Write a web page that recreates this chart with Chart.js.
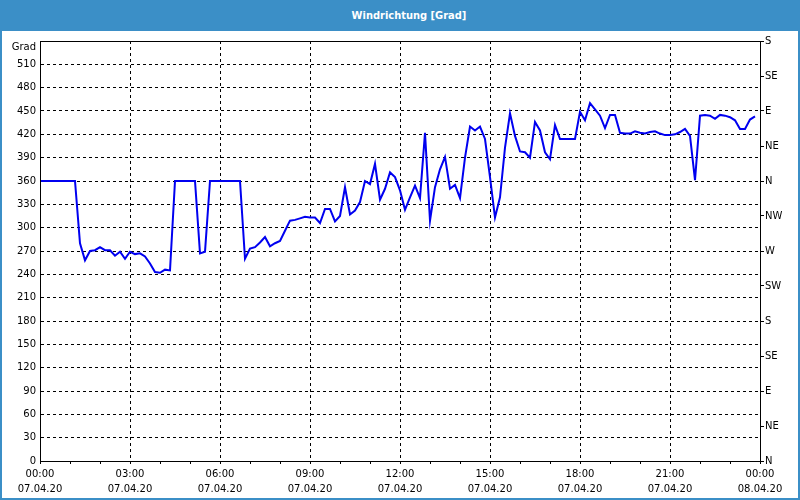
<!DOCTYPE html>
<html>
<head>
<meta charset="utf-8">
<script src="https://cdn.jsdelivr.net/npm/chart.js@4.4.0/dist/chart.umd.min.js"></script>
<style>
  html, body { margin: 0; padding: 0; background: #ffffff; }
  #frame { position: relative; width: 800px; height: 500px; overflow: hidden; background: #ffffff; }
  #header { position: absolute; left: 0; top: 0; width: 800px; height: 31px; background: #3b8fc7;
            color: #ffffff; font: bold 11px "DejaVu Sans Condensed", "DejaVu Sans", sans-serif;
            line-height: 31px; text-align: center; box-sizing: border-box; padding-left: 18px; }
  #chartWrap { position: absolute; left: 0; top: 31px; width: 800px; height: 469px; }
  .bd { position: absolute; background: #3b8fc7; }
</style>
</head>
<body>
<div id="frame">
  <div id="header">Windrichtung [Grad]</div>
  <div id="chartWrap"><canvas id="c" width="800" height="469"></canvas></div>
  <div class="bd" style="left:0;top:31px;width:2px;height:469px;"></div>
  <div class="bd" style="left:798px;top:31px;width:2px;height:469px;"></div>
  <div class="bd" style="left:0;top:498px;width:800px;height:2px;"></div>
</div>
<script>
// time of each sample, minutes after 07.04.20 00:00
const minutes = [
  0,10,20,30,40,50,60,70,80,90,100,110,120,130,140,150,160,170,180,190,200,210,220,230,240,250,260,270,280,290,
  300,310,320,330,340,350,360,370,380,390,400,410,420,430,440,450,460,470,480,490,500,510,520,530,540,550,560,570,580,590,
  600,610,620,630,640,650,660,670,680,690,700,710,720,730,740,750,760,770,780,790,800,810,820,830,840,850,860,870,880,890,
  900,910,920,930,940,950,960,970,980,990,1000,1010,1020,1030,1040,1050,1060,1070,1080,1090,1100,1110,1120,1130,1140,1150,1160,1170,1180,1190,
  1200,1210,1220,1230,1240,1250,1260,1270,1280,1290,1300,1310,1320,1330,1340,1350,1360,1370,1380,1390,1400,1410,1420,1430
];
// wind direction, degrees
const direction = [
  360,360,360,360,360,360,360,360,280,258,270,271,275,271,271,264,269,260,269,266,267,263,254,243,242,246,245,360,360,360,
  360,360,267,269,360,360,360,360,360,360,360,260,273,275,281,288,276,280,283,296,309,310,312,314,313,313,306,324,324,308,
  315,352,317,322,333,360,356,382,336,350,371,365,348,323,339,354,338,422,309,352,375,391,350,355,338,390,430,425,430,414,
  365,313,339,403,447,418,398,397,390,436,425,397,388,432,414,414,414,414,449,438,460,452,444,428,445,445,422,421,421,424,
  422,421,423,424,421,419,419,420,423,427,418,361,444,445,444,440,445,444,442,438,427,427,439,443
];
const timeLabels = ['00:00','03:00','06:00','09:00','12:00','15:00','18:00','21:00','00:00'];
const dateLabels = ['07.04.20','07.04.20','07.04.20','07.04.20','07.04.20','07.04.20','07.04.20','07.04.20','08.04.20'];
const compassLabels = ['N','NE','E','SE','S','SW','W','NW','N','NE','E','SE','S'];
const yUnitLabel = 'Grad';

const points = minutes.map((m, i) => ({ x: m, y: direction[i] }));

const framePlugin = {
  id: 'frame',
  afterDraw(chart) {
    const { ctx, chartArea: a } = chart;
    ctx.save();
    ctx.strokeStyle = '#000';
    ctx.lineWidth = 1;
    ctx.strokeRect(Math.round(a.left) + 0.5, Math.round(a.top) + 0.5,
                   Math.round(a.right - a.left), Math.round(a.bottom - a.top));
    ctx.fillStyle = '#000';
    ctx.font = '10px "DejaVu Sans"';
    ctx.textAlign = 'right';
    ctx.textBaseline = 'middle';
    ctx.fillText(yUnitLabel, a.left - 4, a.top + 6);
    ctx.restore();
  }
};

Chart.defaults.font.family = '"DejaVu Sans", sans-serif';
Chart.defaults.font.size = 10;
Chart.defaults.color = '#000';

new Chart(document.getElementById('c'), {
  type: 'line',
  data: {
    datasets: [{
      data: points,
      borderColor: '#0000f0',
      borderWidth: 2,
      pointRadius: 0,
      tension: 0,
      fill: false,
      yAxisID: 'y'
    }]
  },
  options: {
    responsive: false,
    animation: false,
    events: [],
    layout: { padding: { top: 9, left: 0, right: 0, bottom: 0 } },
    plugins: { legend: { display: false }, tooltip: { enabled: false }, title: { display: false } },
    scales: {
      x: {
        type: 'linear',
        min: 0, max: 1440,
        afterFit(s) { s.height = 39; },
        ticks: {
          stepSize: 60,
          autoSkip: false,
          maxRotation: 0,
          padding: 3,
          font: { size: 10, lineHeight: '15px' },
          callback(v) {
            if (v % 180 !== 0) return '';
            const i = v / 180;
            return [timeLabels[i], dateLabels[i]];
          }
        },
        grid: {
          color: (c) => (c.tick && c.tick.value % 180 === 0) ? '#000' : 'rgba(0,0,0,0)',
          lineWidth: 1,
          drawTicks: true,
          tickLength: 3,
          tickColor: '#000',
          tickWidth: 1
        },
        border: { display: true, color: '#000', width: 1, dash: [3, 3] }
      },
      y: {
        position: 'left',
        min: 0, max: 540,
        afterFit(s) { s.width = 40; },
        ticks: {
          stepSize: 30,
          padding: 4,
          callback(v) { return v === 540 ? '' : String(v); }
        },
        grid: { color: '#000', lineWidth: 1, drawTicks: false },
        border: { display: true, color: '#000', width: 1, dash: [3, 3] }
      },
      y2: {
        position: 'right',
        min: 0, max: 540,
        afterFit(s) { s.width = 40; },
        ticks: {
          stepSize: 45,
          padding: 1,
          callback(v) { return compassLabels[Math.round(v / 45)]; }
        },
        grid: { display: true, drawOnChartArea: false, drawTicks: true, tickLength: 4, tickColor: '#000' },
        border: { display: true, color: '#000', width: 1 }
      }
    }
  },
  plugins: [framePlugin]
});
</script>
</body>
</html>
